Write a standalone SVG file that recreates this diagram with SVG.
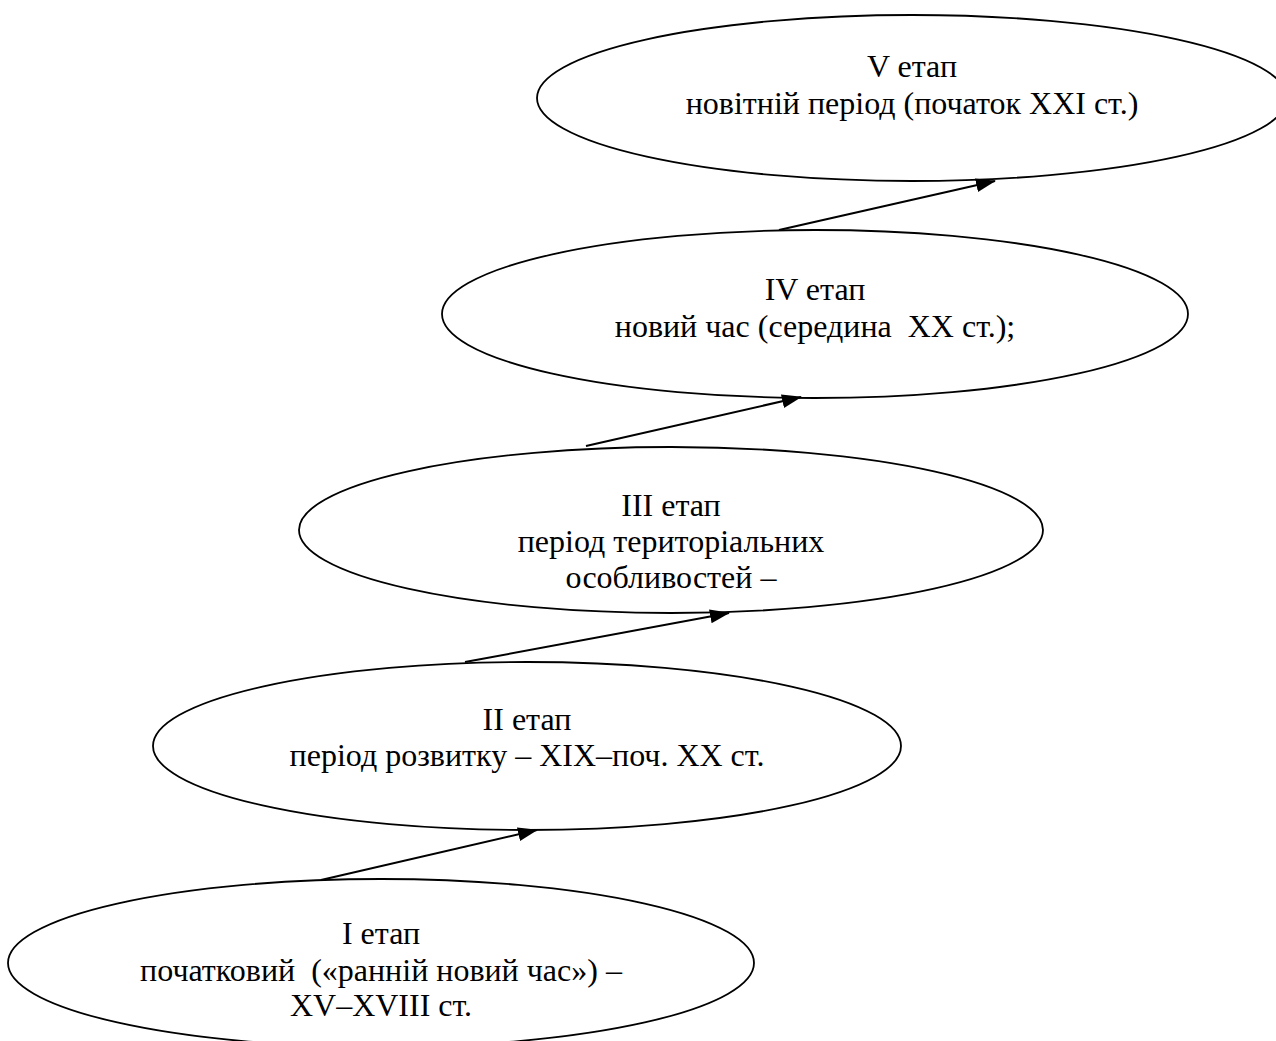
<svg xmlns="http://www.w3.org/2000/svg" width="1276" height="1041" viewBox="0 0 1276 1041">
  <style>
    .stage { fill: #ffffff; stroke: #000000; stroke-width: 1.8; }
    .label { font-family: "Liberation Serif", "Times New Roman", serif; font-size: 32px; fill: #000000; text-anchor: middle; white-space: pre; }
    .link { stroke: #000000; stroke-width: 2; fill: none; marker-end: url(#head); }
  </style>
  <defs>
    <marker id="head" markerUnits="userSpaceOnUse" markerWidth="22" markerHeight="15" refX="19" refY="7" orient="auto">
      <path d="M0,0 L20,7 L0,14 Z" fill="#000000"/>
    </marker>
  </defs>
  <rect width="1276" height="1041" fill="#ffffff"/>

  <g id="stage-5">
    <ellipse class="stage" cx="912" cy="98" rx="375" ry="83"/>
    <text class="label" x="912" y="77">V етап</text>
    <text class="label" x="912" y="114">новітній період (початок XXI ст.)</text>
  </g>

  <g id="stage-4">
    <ellipse class="stage" cx="815" cy="314" rx="373" ry="84"/>
    <text class="label" x="815" y="300">IV етап</text>
    <text class="label" x="815" y="337">новий час (середина  XX ст.);</text>
  </g>

  <g id="stage-3">
    <ellipse class="stage" cx="671" cy="530" rx="372" ry="83"/>
    <text class="label" x="671" y="516">III етап</text>
    <text class="label" x="671" y="552">період територіальних</text>
    <text class="label" x="671" y="588">особливостей –</text>
  </g>

  <g id="stage-2">
    <ellipse class="stage" cx="527" cy="746" rx="374" ry="84"/>
    <text class="label" x="527" y="730">II етап</text>
    <text class="label" x="527" y="766">період розвитку – XIX–поч. XX ст.</text>
  </g>

  <g id="stage-1">
    <ellipse class="stage" cx="381" cy="963" rx="373" ry="84"/>
    <text class="label" x="381" y="944">I етап</text>
    <text class="label" x="381" y="981">початковий  («ранній новий час») –</text>
    <text class="label" x="381" y="1016">XV–XVIII ст.</text>
  </g>

  <g id="connectors">
    <line class="link" x1="321" y1="880" x2="537" y2="830"/>
    <line class="link" x1="465" y1="662" x2="729" y2="613"/>
    <line class="link" x1="586" y1="446" x2="801" y2="397"/>
    <line class="link" x1="779" y1="230" x2="995" y2="181"/>
  </g>
</svg>
